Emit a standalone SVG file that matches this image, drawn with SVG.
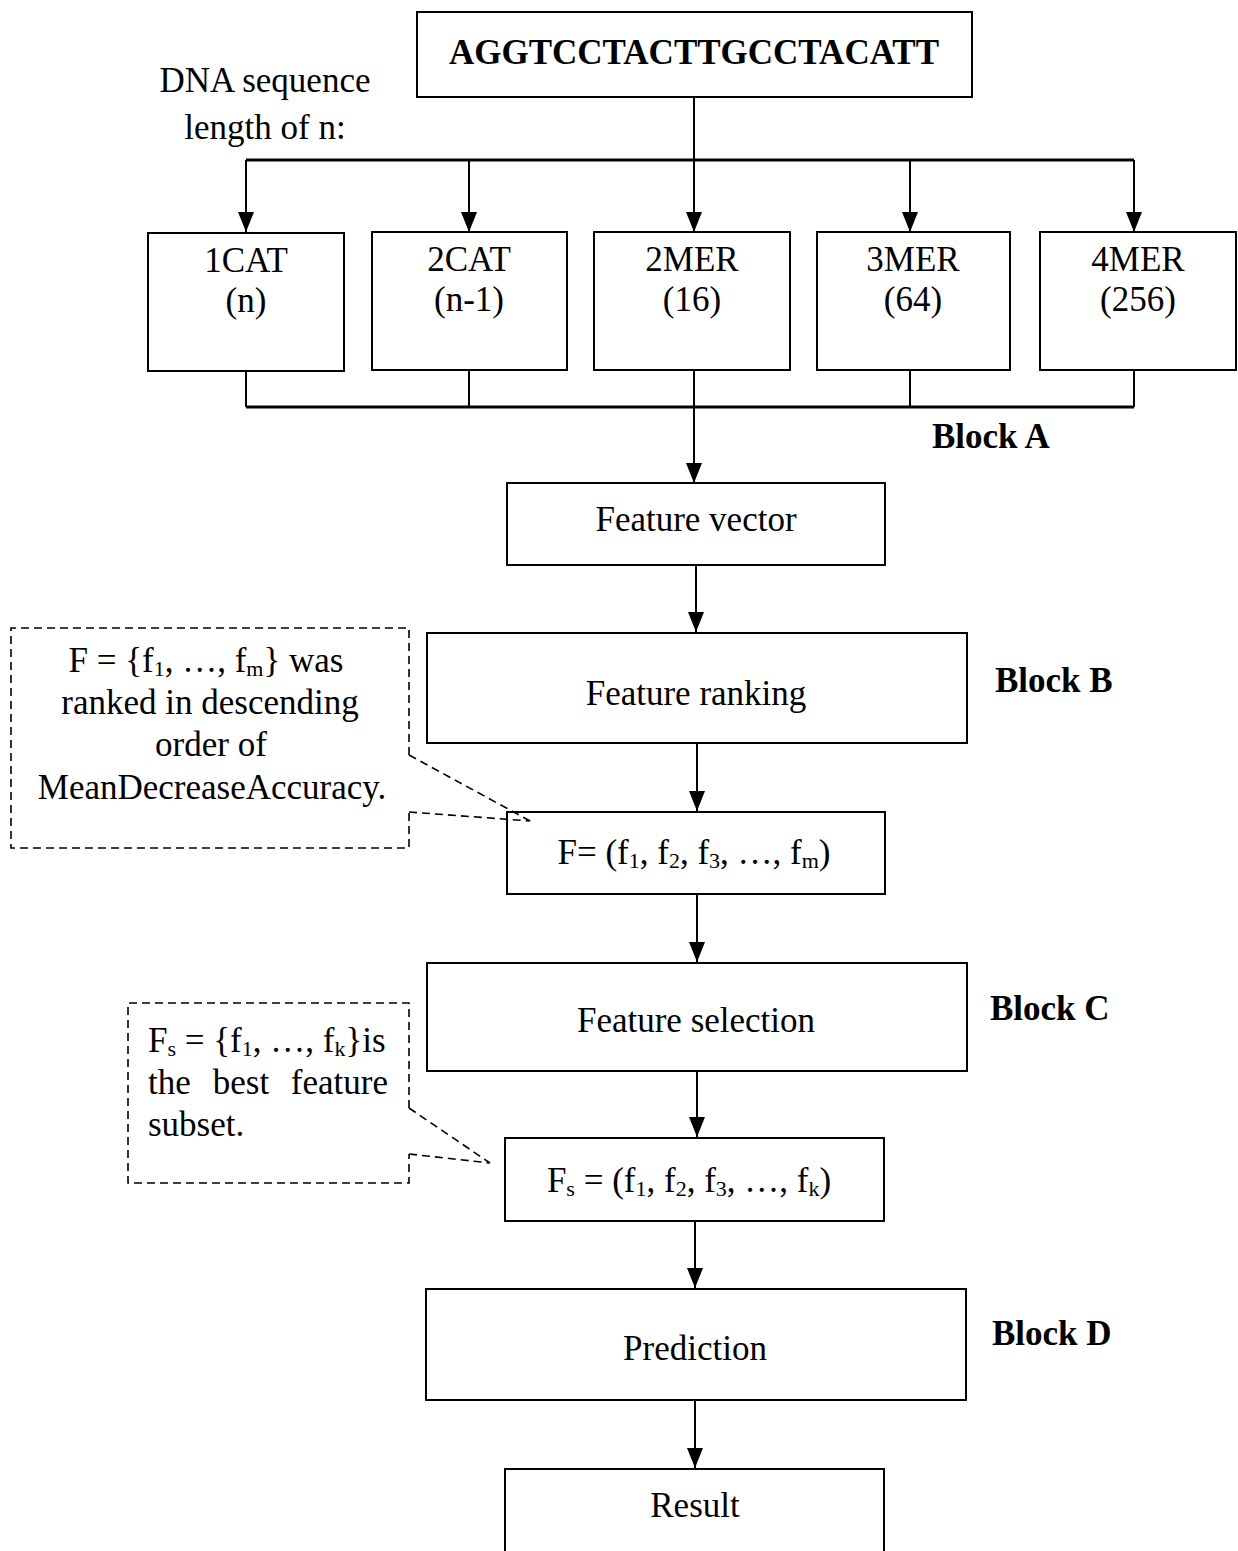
<svg xmlns="http://www.w3.org/2000/svg" width="1238" height="1551" viewBox="0 0 1238 1551">
  <defs>
    <marker id="arrow" viewBox="0 0 20 16" refX="20" refY="8" markerWidth="20" markerHeight="16" markerUnits="userSpaceOnUse" orient="auto">
      <path d="M0,0 L20,8 L0,16 Z" fill="#000"/>
    </marker>
  </defs>
  <style>
    text { font-family: "Liberation Serif", "Times New Roman", serif; font-size: 35px; fill: #000; }
    .c { text-anchor: middle; }
    .e { text-anchor: end; }
    .b { font-weight: bold; }
    .box { fill: #fff; stroke: #000; stroke-width: 2; }
    .wire { fill: none; stroke: #000; stroke-width: 2; }
    .bus { fill: none; stroke: #000; stroke-width: 3; }
    .arr { fill: none; stroke: #000; stroke-width: 2; marker-end: url(#arrow); }
    .dash { fill: none; stroke: #000; stroke-width: 1.6; stroke-dasharray: 8 5; }
    .sub { font-size: 22px; }
  </style>
  <rect width="1238" height="1551" fill="#fff"/>

  <!-- connectors -->
  <g id="connectors">
    <line class="wire" x1="694" y1="97" x2="694" y2="160"/>
    <line class="bus" x1="246" y1="160" x2="1134" y2="160"/>
    <line class="arr" x1="246" y1="160" x2="246" y2="232"/>
    <line class="arr" x1="469" y1="160" x2="469" y2="232"/>
    <line class="arr" x1="694" y1="160" x2="694" y2="232"/>
    <line class="arr" x1="910" y1="160" x2="910" y2="232"/>
    <line class="arr" x1="1134" y1="160" x2="1134" y2="232"/>
    <line class="wire" x1="246" y1="371" x2="246" y2="407"/>
    <line class="wire" x1="469" y1="370" x2="469" y2="408"/>
    <line class="wire" x1="910" y1="370" x2="910" y2="407"/>
    <line class="wire" x1="1134" y1="370" x2="1134" y2="407"/>
    <line class="bus" x1="246" y1="407" x2="1134" y2="407"/>
    <line class="arr" x1="694" y1="370" x2="694" y2="483"/>
    <line class="arr" x1="696" y1="565" x2="696" y2="632"/>
    <line class="arr" x1="697" y1="743" x2="697" y2="811"/>
    <line class="arr" x1="697" y1="894" x2="697" y2="962"/>
    <line class="arr" x1="697" y1="1071" x2="697" y2="1137"/>
    <line class="arr" x1="695" y1="1221" x2="695" y2="1288"/>
    <line class="arr" x1="695" y1="1400" x2="695" y2="1468"/>
  </g>

  <!-- input sequence -->
  <g id="sequence">
    <rect class="box" x="417" y="12" width="555" height="85"/>
    <text class="c b" x="694" y="64">AGGTCCTACTTGCCTACATT</text>
  </g>
  <g id="sequence-label">
    <text class="c" x="265" y="92">DNA sequence</text>
    <text class="c" x="265" y="139">length of n:</text>
  </g>

  <!-- encodings -->
  <g id="enc-1cat">
    <rect class="box" x="148" y="233" width="196" height="138"/>
    <text class="c" x="246" y="272">1CAT</text>
    <text class="c" x="246" y="312">(n)</text>
  </g>
  <g id="enc-2cat">
    <rect class="box" x="372" y="232" width="195" height="138"/>
    <text class="c" x="469" y="271">2CAT</text>
    <text class="c" x="469" y="311">(n-1)</text>
  </g>
  <g id="enc-2mer">
    <rect class="box" x="594" y="232" width="196" height="138"/>
    <text class="c" x="692" y="271">2MER</text>
    <text class="c" x="692" y="311">(16)</text>
  </g>
  <g id="enc-3mer">
    <rect class="box" x="817" y="232" width="193" height="138"/>
    <text class="c" x="913" y="271">3MER</text>
    <text class="c" x="913" y="311">(64)</text>
  </g>
  <g id="enc-4mer">
    <rect class="box" x="1040" y="232" width="196" height="138"/>
    <text class="c" x="1138" y="271">4MER</text>
    <text class="c" x="1138" y="311">(256)</text>
  </g>
  <text class="b" x="932" y="448">Block A</text>

  <g id="feature-vector">
    <rect class="box" x="507" y="483" width="378" height="82"/>
    <text class="c" x="696" y="531">Feature vector</text>
  </g>

  <g id="feature-ranking">
    <rect class="box" x="427" y="633" width="540" height="110"/>
    <text class="c" x="696" y="705">Feature ranking</text>
  </g>
  <text class="b" x="995" y="692">Block B</text>

  <g id="ranked-set">
    <rect class="box" x="507" y="812" width="378" height="82"/>
    <text class="c" x="694" y="864">F= (f<tspan class="sub" dy="4">1</tspan><tspan dy="-4">, f</tspan><tspan class="sub" dy="4">2</tspan><tspan dy="-4">, f</tspan><tspan class="sub" dy="4">3</tspan><tspan dy="-4">, …, f</tspan><tspan class="sub" dy="4">m</tspan><tspan dy="-4">)</tspan></text>
  </g>

  <!-- note on ranking -->
  <g id="note-ranking">
    <path class="dash" d="M409,755 L409,628 L11,628 L11,848 L409,848 L409,812"/>
    <path class="dash" d="M409,755 L532,822 M409,812 L530,821"/>
    <text class="c" x="206" y="672">F = {f<tspan class="sub" dy="4">1</tspan><tspan dy="-4">, …, f</tspan><tspan class="sub" dy="4">m</tspan><tspan dy="-4">} was</tspan></text>
    <text class="c" x="210" y="714">ranked in descending</text>
    <text class="c" x="211" y="756">order of</text>
    <text class="c" x="212" y="799">MeanDecreaseAccuracy.</text>
  </g>

  <g id="feature-selection">
    <rect class="box" x="427" y="963" width="540" height="108"/>
    <text class="c" x="696" y="1032">Feature selection</text>
  </g>
  <text class="b" x="990" y="1020">Block C</text>

  <g id="best-subset">
    <rect class="box" x="505" y="1138" width="379" height="83"/>
    <text class="c" x="689" y="1192">F<tspan class="sub" dy="4">s</tspan><tspan dy="-4"> = (f</tspan><tspan class="sub" dy="4">1</tspan><tspan dy="-4">, f</tspan><tspan class="sub" dy="4">2</tspan><tspan dy="-4">, f</tspan><tspan class="sub" dy="4">3</tspan><tspan dy="-4">, …, f</tspan><tspan class="sub" dy="4">k</tspan><tspan dy="-4">)</tspan></text>
  </g>

  <!-- note on selection (justified lines) -->
  <g id="note-selection">
    <path class="dash" d="M409,1108 L409,1003 L128,1003 L128,1183 L409,1183 L409,1154"/>
    <path class="dash" d="M409,1108 L490,1163 M409,1154 L490,1163"/>
    <text x="148" y="1052">F<tspan class="sub" dy="4">s</tspan><tspan dy="-4"> = {f</tspan><tspan class="sub" dy="4">1</tspan><tspan dy="-4">, …, f</tspan><tspan class="sub" dy="4">k</tspan><tspan dy="-4">}is</tspan></text>
    <text x="148" y="1094">the</text>
    <text class="c" x="241" y="1094">best</text>
    <text class="e" x="388" y="1094">feature</text>
    <text x="148" y="1136">subset.</text>
  </g>

  <g id="prediction">
    <rect class="box" x="426" y="1289" width="540" height="111"/>
    <text class="c" x="695" y="1360">Prediction</text>
  </g>
  <text class="b" x="992" y="1345">Block D</text>

  <g id="result">
    <path class="box" d="M505,1560 L505,1469 L884,1469 L884,1560"/>
    <text class="c" x="695" y="1517">Result</text>
  </g>
</svg>
